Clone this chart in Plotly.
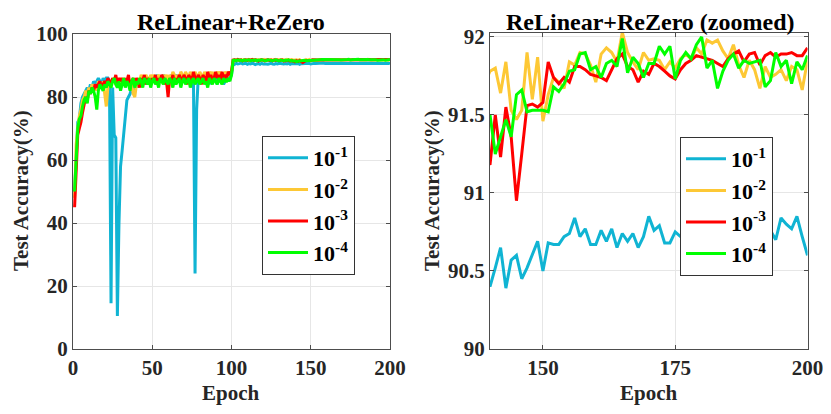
import plotly.graph_objects as go

epochs = list(range(1, 201))

# test accuracy (%) per epoch, one list per learning rate
acc_1e1 = [
    50, 63, 72, 73, 78, 80, 81, 82, 83, 82,
    84, 83, 85, 84, 85, 86, 85, 84, 86, 85,
    86, 86, 85, 14.5, 83, 68, 67, 10.5, 40, 58,
    63, 68, 74, 79, 80, 81, 83, 82, 84, 83,
    85, 84, 86, 85, 84, 86, 85, 86, 84, 86,
    85, 86, 87, 85, 86, 85, 87, 86, 85, 86,
    86, 87, 85, 86, 87, 86, 85, 87, 86, 87,
    86, 85, 86, 87, 86, 85, 24, 76, 86, 85,
    87, 86, 85, 87, 86, 84, 86, 85, 87, 86,
    84, 86, 85, 86, 84, 85, 86, 85, 86, 87,
    90.6, 90.4, 90.7, 90.5, 90.6, 90.8, 90.5, 90.6, 90.7, 90.4,
    90.6, 90.5, 90.7, 90.6, 90.3, 90.5, 90.6, 90.4, 90.7, 90.5,
    90.6, 90.5, 90.4, 90.6, 90.7, 90.5, 90.4, 90.6, 90.5, 90.7,
    90.6, 90.4, 90.5, 90.6, 90.5, 90.7, 90.4, 90.6, 90.5,
    90.40, 90.52, 90.65, 90.39, 90.57, 90.60, 90.45, 90.52, 90.61, 90.69,
    90.50, 90.68, 90.67, 90.67, 90.72, 90.74, 90.84, 90.72, 90.77, 90.67,
    90.67, 90.76, 90.69, 90.77, 90.65, 90.74, 90.69, 90.74, 90.65, 90.72,
    90.85, 90.76, 90.79, 90.68, 90.68, 90.75, 90.72, 90.70, 90.78, 90.74,
    90.80, 90.71, 90.76, 90.69, 90.77, 90.73, 90.79, 90.70, 90.75, 90.72,
    90.78, 90.74, 90.70, 90.76, 90.70, 90.84, 90.80, 90.77, 90.85, 90.72,
    90.60,
]

acc_1e2 = [
    48, 65, 70, 74, 76, 79, 80, 82, 81, 83,
    82, 84, 83, 84, 82, 85, 84, 83, 85, 80,
    77, 83, 85, 84, 86, 85, 84, 86, 85, 86,
    84, 86, 85, 84, 86, 83, 84, 81, 80, 84,
    86, 85, 87, 86, 85, 87, 86, 85, 87, 86,
    87, 85, 86, 87, 86, 85, 87, 86, 87, 85,
    87, 86, 88, 87, 85, 87, 86, 88, 87, 86,
    88, 87, 86, 88, 87, 86, 88, 87, 86, 88,
    87, 86, 88, 87, 86, 88, 87, 88, 86, 87,
    88, 87, 88, 86, 87, 88, 87, 88, 87, 88,
    91.6, 91.8, 91.7, 91.9, 91.6, 91.8, 91.7, 91.9, 91.8, 91.6,
    91.9, 91.7, 91.8, 91.9, 91.6, 91.8, 91.7, 91.9, 91.8, 91.7,
    91.9, 91.6, 91.8, 91.7, 91.9, 91.8, 91.6, 91.9, 91.7, 91.8,
    91.9, 91.7, 91.8, 91.6, 91.9, 91.7, 91.8, 91.9, 91.7,
    91.78, 91.80, 91.64, 91.84, 91.53, 91.47, 91.53, 91.90, 91.60, 91.87,
    91.46, 91.63, 91.74, 91.71, 91.67, 91.84, 91.82, 91.90, 91.89, 91.82,
    91.71, 91.89, 91.93, 91.90, 91.84, 92.03, 91.90, 91.84, 91.79, 91.90,
    91.85, 91.86, 91.85, 91.79, 91.84, 91.80, 91.86, 91.89, 91.86, 91.93,
    91.89, 91.98, 91.96, 91.98, 91.91, 91.86, 91.95, 91.82, 91.74, 91.85,
    91.79, 91.67, 91.81, 91.74, 91.76, 91.79, 91.72, 91.81, 91.79, 91.66,
    91.85,
]

acc_1e3 = [
    45, 58, 68, 70, 72, 75, 78, 80, 79, 82,
    81, 83, 82, 84, 83, 84, 85, 83, 84, 85,
    84, 86, 85, 84, 86, 85, 87, 84, 86, 85,
    86, 84, 86, 85, 87, 83, 85, 86, 84, 86,
    85, 83, 86, 85, 87, 84, 86, 85, 84, 86,
    85, 87, 84, 86, 85, 87, 86, 84, 85, 80,
    86, 85, 87, 84, 86, 85, 87, 86, 85, 87,
    86, 84, 87, 86, 85, 88, 86, 85, 87, 86,
    84, 87, 86, 85, 88, 86, 87, 85, 86, 88,
    86, 87, 85, 88, 86, 87, 86, 88, 87, 88,
    91.7, 91.8, 91.6, 91.9, 91.7, 91.8, 91.5, 91.7, 91.8, 91.6,
    91.8, 91.7, 91.9, 91.6, 91.8, 91.7, 91.4, 91.6, 91.8, 91.7,
    91.5, 91.7, 91.8, 91.6, 91.7, 91.5, 91.8, 91.6, 91.7, 91.5,
    91.6, 91.8, 91.4, 91.6, 91.5, 91.7, 91.4, 91.6, 91.3,
    91.18, 91.50, 91.23, 91.55, 91.36, 90.95, 91.25, 91.56, 91.57, 91.55,
    91.58, 91.84, 91.74, 91.70, 91.74, 91.71, 91.81, 91.81, 91.79, 91.76,
    91.75, 91.74, 91.72, 91.79, 91.86, 91.89, 91.81, 91.79, 91.71, 91.78,
    91.76, 91.83, 91.81, 91.78, 91.75, 91.73, 91.79, 91.83, 91.85, 91.88,
    91.87, 91.86, 91.85, 91.83, 91.81, 91.86, 91.89, 91.91, 91.84, 91.89,
    91.90, 91.82, 91.88, 91.90, 91.87, 91.89, 91.89, 91.90, 91.88, 91.88,
    91.93,
]

acc_1e4 = [
    50, 60, 70, 73, 74, 77, 79, 80, 78, 82,
    81, 83, 82, 80, 76, 82, 84, 83, 82, 84,
    83, 85, 84, 83, 85, 86, 84, 83, 85, 82,
    84, 86, 83, 85, 84, 82, 85, 86, 83, 85,
    84, 86, 85, 83, 86, 85, 84, 86, 83, 85,
    86, 84, 85, 83, 86, 85, 84, 86, 85, 84,
    86, 85, 83, 86, 84, 85, 86, 83, 85, 86,
    84, 85, 86, 83, 85, 86, 84, 85, 86, 84,
    85, 86, 84, 85, 83, 86, 85, 84, 86, 85,
    84, 86, 85, 84, 86, 85, 85, 86, 85, 87,
    91.6, 91.7, 91.5, 91.8, 91.6, 91.7, 91.5, 91.8, 91.6, 91.7,
    91.8, 91.5, 91.7, 91.6, 91.8, 91.5, 91.7, 91.6, 91.8, 91.7,
    91.5, 91.6, 91.8, 91.7, 91.6, 91.5, 91.7, 91.8, 91.6, 91.5,
    91.7, 91.6, 91.5, 91.7, 91.6, 91.8, 91.5, 91.6, 91.4,
    91.50, 91.25, 91.36, 91.47, 91.36, 91.63, 91.66, 91.52, 91.53, 91.53,
    91.53, 91.52, 91.68, 91.65, 91.70, 91.78, 91.79, 91.89, 91.90, 91.79,
    91.81, 91.74, 91.83, 91.85, 91.81, 91.99, 91.77, 91.87, 91.83, 91.74,
    91.83, 91.83, 91.94, 91.89, 91.94, 91.73, 91.85, 91.90, 91.86, 91.95,
    92.00, 91.80, 91.85, 91.67, 91.78, 91.85, 91.89, 91.80, 91.85, 91.83,
    91.84, 91.85, 91.68, 91.72, 91.90, 91.81, 91.85, 91.70, 91.84, 91.79,
    91.88,
]

series = [
    ("10<sup>-1</sup>", acc_1e1, "#10b4d3"),
    ("10<sup>-2</sup>", acc_1e2, "#fdc835"),
    ("10<sup>-3</sup>", acc_1e3, "#ff0000"),
    ("10<sup>-4</sup>", acc_1e4, "#00ff00"),
]

serif = "Liberation Serif"
# the page body keeps its default 8px margin: the figure is 16px smaller than
# the 831x414 window (no scrollbars) and every target pixel is shifted by 8
W, H = 815, 398
OFF = 8


def px_x(p):
    return (p - OFF) / W


def px_y(p):
    return 1 - (p - OFF) / H


fig = go.Figure()

for name, vals, col in series:
    fig.add_trace(go.Scatter(x=epochs, y=vals, mode="lines", name=name,
                             line=dict(color=col, width=3),
                             xaxis="x", yaxis="y", legend="legend"))
for name, vals, col in series:
    fig.add_trace(go.Scatter(x=epochs, y=vals, mode="lines", name=name,
                             line=dict(color=col, width=3),
                             xaxis="x2", yaxis="y2", legend="legend2"))

axis_common = dict(
    showgrid=True, gridcolor="#e6e6e6", gridwidth=1,
    showline=True, linecolor="#4d4d4d", linewidth=1, mirror="allticks",
    ticks="inside", ticklen=4, tickcolor="#4d4d4d",
    tickfont=dict(family=serif, size=21, color="#262626", weight="bold"),
    zeroline=False, automargin=False, ticklabeloverflow="allow",
)

legend_style = dict(xanchor="left", yanchor="top", itemwidth=40,
                    bgcolor="white", bordercolor="#333333", borderwidth=1,
                    font=dict(family=serif, size=22, color="black", weight="bold"))

fig.update_layout(
    width=W, height=H,
    margin=dict(l=0, r=0, t=0, b=0, autoexpand=False),
    paper_bgcolor="white", plot_bgcolor="white",
    xaxis=dict(domain=[px_x(73), px_x(390)], range=[0, 200],
               tickvals=[0, 50, 100, 150, 200], anchor="y", **axis_common),
    yaxis=dict(domain=[px_y(349), px_y(34)], range=[0, 100],
               tickvals=[0, 20, 40, 60, 80, 100], anchor="x", **axis_common),
    xaxis2=dict(domain=[px_x(490), px_x(807.5)], range=[140, 200],
                tickvals=[150, 175, 200], anchor="y2", **axis_common),
    yaxis2=dict(domain=[px_y(349), px_y(33)], range=[90, 92.025],
                tickvals=[90, 90.5, 91, 91.5, 92], ticktext=["90", "90.5", "91", "91.5", "92"],
                anchor="x2", **axis_common),
    legend=dict(x=px_x(262), y=px_y(136), **legend_style),
    legend2=dict(x=px_x(680), y=px_y(137), **legend_style),
)

# subplot titles hang from the top edge, axis titles sit on the bottom edge
for txt, x in [("ReLinear+ReZero", 231), ("ReLinear+ReZero (zoomed)", 650)]:
    fig.add_annotation(text=txt, x=px_x(x), y=1, xref="paper", yref="paper",
                       showarrow=False, xanchor="center", yanchor="top", borderpad=0,
                       font=dict(family=serif, size=24, color="black", weight="bold"))

for x in [231, 649]:
    fig.add_annotation(text="Epoch", x=px_x(x), y=0, xref="paper", yref="paper",
                       showarrow=False, xanchor="center", yanchor="bottom", borderpad=0,
                       font=dict(family=serif, size=21, color="#262626", weight="bold"))

for x in [21, 432]:
    fig.add_annotation(text="Test Accuracy(%)", x=px_x(x), y=px_y(191), xref="paper", yref="paper",
                       showarrow=False, textangle=-90, xanchor="center", yanchor="middle",
                       font=dict(family=serif, size=21, color="#262626", weight="bold"))

fig.write_html("out.html")
